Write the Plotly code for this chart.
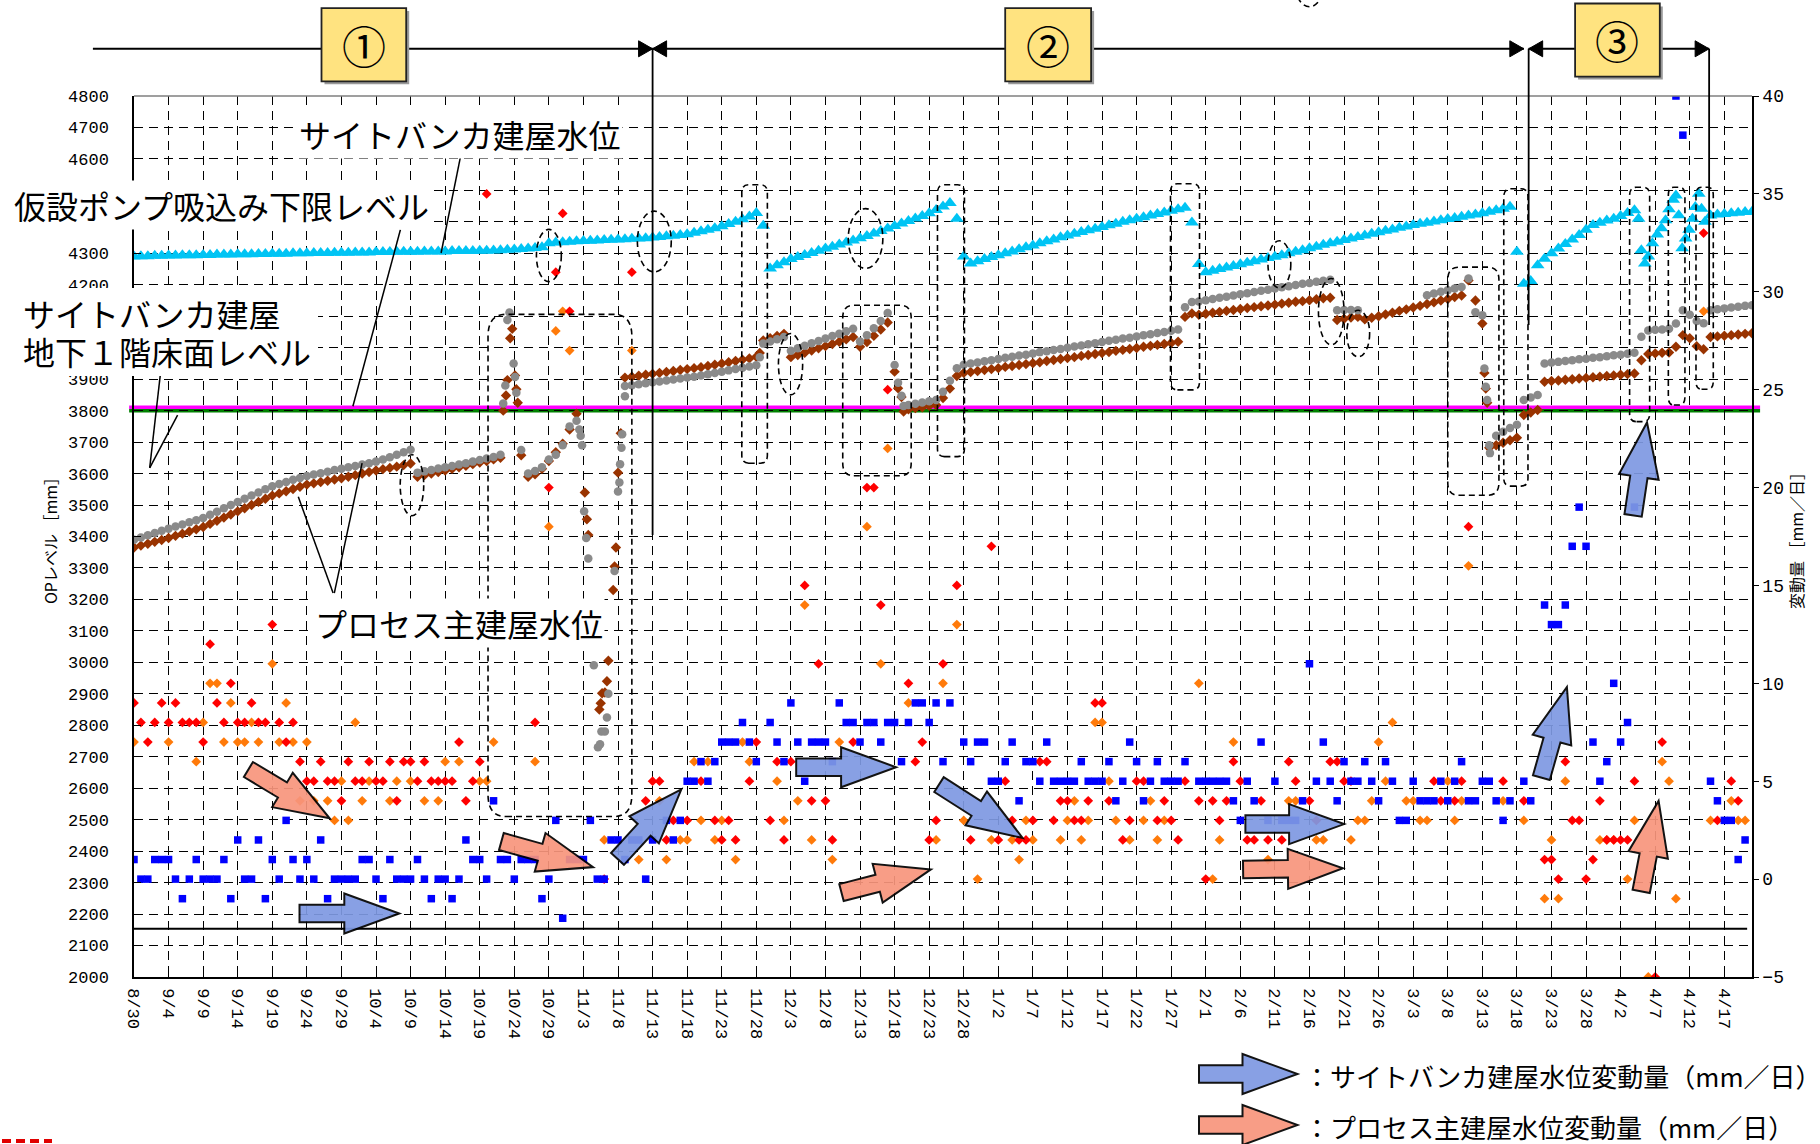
import plotly.graph_objects as go

N = None
FONT = "Noto Sans CJK JP"
TICK_FONT = "Liberation Mono"

# ---------------- categories / tick labels ----------------
DATE_LABELS = ["8/30", "9/4", "9/9", "9/14", "9/19", "9/24", "9/29", "10/4", "10/9", "10/14",
               "10/19", "10/24", "10/29", "11/3", "11/8", "11/13", "11/18", "11/23", "11/28", "12/3",
               "12/8", "12/13", "12/18", "12/23", "12/28", "1/2", "1/7", "1/12", "1/17", "1/22",
               "1/27", "2/1", "2/6", "2/11", "2/16", "2/21", "2/26", "3/3", "3/8", "3/13",
               "3/18", "3/23", "3/28", "4/2", "4/7", "4/12", "4/17"]
TICK_EVERY_DAYS = 5
N_DAYS = 235
DAYS = list(range(N_DAYS))          # day 0 = 8/30
Y_TICKS = list(range(2000, 4801, 100))
Y_LABELS_HIDDEN_BY_TEXT = [4000, 4100, 4400, 4500]   # covered by the label boxes in the original

# ---------------- levels (left axis, OP mm), one value per day ----------------
SB_LEVEL = [  # サイトバンカ建屋水位
    4290, 4291, 4291, 4292, 4292, 4293, 4293, 4294, 4294, 4294,
    4295, 4295, 4296, 4296, 4296, 4297, 4297, 4297, 4298, 4298,
    4299, 4299, 4299, 4300, 4300, 4300, 4301, 4301, 4301, 4302,
    4302, 4302, 4303, 4303, 4303, 4304, 4304, 4304, 4305, 4305,
    4305, 4305, 4306, 4306, 4306, 4306, 4307, 4307, 4307, 4307,
    4308, 4308, 4309, 4310, 4311, 4312, 4314, 4315, 4317, 4319,
    4332, 4334, 4335, 4337, 4338, 4339, 4340, 4341, 4342, 4343,
    4344, 4345, 4346, 4347, 4348, 4350, 4352, 4354, 4356, 4358,
    4361, 4365, 4370, 4375, 4380, 4386, 4393, 4400, 4408, 4417,
    4428, 4388, 4252, 4262, 4272, 4282, 4288, 4295, 4301, 4308,
    4315, 4321, 4328, 4334, 4341, 4348, 4355, 4363, 4371, 4379,
    4387, 4395, 4403, 4411, 4419, 4427, 4438, 4449, 4460, 4410,
    4290, 4268, 4275, 4282, 4288, 4294, 4300, 4306, 4313, 4319,
    4325, 4332, 4338, 4344, 4351, 4357, 4362, 4368, 4373, 4378,
    4384, 4389, 4394, 4400, 4405, 4410, 4415, 4420, 4425, 4430,
    4435, 4440, 4445, 4398, 4266, 4240, 4245, 4250, 4255, 4260,
    4265, 4270, 4275, 4280, 4285, 4289, 4294, 4300, 4305, 4310,
    4316, 4321, 4327, 4332, 4337, 4342, 4347, 4352, 4357, 4362,
    4367, 4372, 4376, 4381, 4385, 4390, 4394, 4397, 4401, 4405,
    4409, 4412, 4416, 4420, 4423, 4427, 4432, 4437, 4442, 4448,
    4305, 4203, 4212, 4262, 4283, 4300, 4315, 4330, 4344, 4358,
    4375, 4390, 4397, 4404, 4410, 4419, 4428, 4437, N, N,
    N, N, N, N, N, N, N, N, 4420, 4423,
    4425, 4427, 4429, 4431, 4432]
SB_EXTRA_DAY = [217.6, 218.0, 218.5, 219.0, 219.6, 220.3, 220.9, 221.5, 222.0, 222.6,
                223.0, 223.4, 223.9, 224.4, 224.9, 225.4, 225.8, 226.3, 226.7, 227.2]
SB_EXTRA_VAL = [4410, 4310, 4268, 4290, 4332, 4360, 4380, 4405, 4440, 4470,
                4484, 4421, 4316, 4347, 4375, 4410, 4447, 4489, 4442, 4400]

PG_LEVEL = [  # プロセス主建屋水位 (gray gauge)
    3390, 3397, 3404, 3411, 3418, 3425, 3432, 3438, 3445, 3452,
    3459, 3469, 3479, 3490, 3500, 3510, 3520, 3530, 3540, 3550,
    3560, 3567, 3573, 3580, 3586, 3592, 3597, 3601, 3606, 3611,
    3615, 3620, 3624, 3629, 3633, 3638, 3645, 3652, 3660, 3668,
    3676, 3603, 3607, 3611, 3616, 3620, 3624, 3629, 3633, 3638,
    3643, 3648, 3653, 3660, N, N, N, 3600, 3608, 3620,
    3645, 3660, 3690, 3750, 3768, N, N, N, N, N,
    N, 3878, 3881, 3884, 3887, 3890, 3893, 3896, 3899, 3902,
    3905, 3908, 3912, 3916, 3920, 3924, 3928, 3932, 3936, 3940,
    3944, 4013, 4020, 4027, 4034, 3990, 3998, 4006, 4014, 4021,
    4029, 4037, 4044, 4052, 4060, 4020, 4040, 4062, 4085, 4110,
    3945, 3847, 3818, 3822, 3826, 3830, 3834, 3860, 3895, 3935,
    3946, 3950, 3953, 3957, 3960, 3964, 3968, 3971, 3975, 3978,
    3982, 3986, 3989, 3993, 3996, 4000, 4004, 4007, 4011, 4014,
    4018, 4022, 4025, 4029, 4032, 4036, 4040, 4043, 4047, 4050,
    4054, 4058, 4129, 4145, 4147, 4151, 4155, 4159, 4162, 4166,
    4170, 4173, 4177, 4181, 4184, 4188, 4192, 4195, 4199, 4203,
    4206, 4210, 4213, 4216, 4119, 4120, 4120, 4119, N, N,
    N, N, N, N, N, N, N, 4167, 4172, 4178,
    4183, 4188, 4193, 4220, 4113, 4103, 3690, 3720, 3733, 3745,
    3755, 3834, 3842, 3850, 3950, 3953, 3955, 3958, 3960, 3963,
    3965, 3968, 3970, 3973, 3976, 3978, 3981, 3984, 4035, 4055,
    4057, 4058, 4060, 4077, 4119, 4105, 4085, 4078, 4119, 4122,
    4125, 4128, 4130, 4133, 4135]
PG_EXTRA_DAY = [53.4, 53.7, 54.0, 54.3, 54.9, 55.1, 55.3, 56.0, 64.4, 64.6, 64.8, 65.1, 65.4,
                65.7, 66.5, 67.1, 67.4, 67.6, 68.1, 68.4, 68.6, 69.5, 70.0, 70.2, 70.3, 70.5,
                70.6, 71.0, 90.5, 110.5, 111.3, 195.3, 195.5, 195.7, 196.1]
PG_EXTRA_VAL = [3823, 3880, 4088, 4112, 3950, 3907, 3857, 3675, 3740, 3720, 3690, 3480, 3395,
                3330, 2991, 2730, 2740, 2780, 2780, 2825, 2900, 3290, 3543, 3572, 3630, 3682,
                3725, 3846, 3970, 3889, 3815, 3934, 3876, 3834, 3665]

PB_LEVEL = [  # プロセス主建屋水位 (brown gauge)
    3365, 3371, 3377, 3383, 3389, 3395, 3402, 3409, 3416, 3423,
    3430, 3440, 3450, 3460, 3470, 3480, 3490, 3500, 3510, 3520,
    3530, 3537, 3544, 3551, 3558, 3565, 3569, 3573, 3577, 3581,
    3585, 3590, 3595, 3600, 3605, 3610, 3614, 3618, 3622, 3627,
    3632, 3590, 3595, 3600, 3605, 3610, 3615, 3620, 3625, 3630,
    3635, 3640, 3645, 3650, N, N, N, 3590, 3598, 3615,
    3640, 3668, 3695, 3740, 3790, N, N, N, N, N,
    N, 3905, 3908, 3911, 3914, 3917, 3920, 3923, 3926, 3929,
    3932, 3935, 3938, 3942, 3946, 3950, 3954, 3958, 3962, 3966,
    3971, 4023, 4030, 4037, 4044, 3970, 3977, 3984, 3991, 3998,
    4005, 4012, 4019, 4027, 4034, 4003, 4018, 4038, 4058, 4080,
    3924, 3843, 3804, 3808, 3811, 3815, 3818, 3840, 3870, 3910,
    3920, 3923, 3926, 3929, 3932, 3935, 3939, 3942, 3945, 3948,
    3951, 3954, 3958, 3961, 3964, 3967, 3970, 3974, 3977, 3980,
    3983, 3986, 3990, 3993, 3996, 3999, 4003, 4006, 4009, 4012,
    4015, 4019, 4098, 4109, 4105, 4108, 4111, 4114, 4117, 4120,
    4123, 4126, 4129, 4132, 4134, 4137, 4140, 4143, 4146, 4148,
    4151, 4154, 4157, 4159, 4088, 4092, 4096, 4098, 4090, 4095,
    4100, 4106, 4111, 4117, 4122, 4128, 4133, 4139, 4144, 4150,
    4155, 4161, 4166, 4214, 4150, 4077, 3682, 3690, 3698, 3706,
    3714, 3786, 3794, 3802, 3892, 3894, 3896, 3898, 3900, 3902,
    3904, 3906, 3908, 3910, 3912, 3914, 3916, 3918, 3960, 3980,
    3982, 3984, 3985, 4003, 4040, 4030, 4005, 3995, 4034, 4036,
    4038, 4040, 4042, 4044, 4046]
PB_EXTRA_DAY = [53.4, 53.8, 54.0, 54.4, 54.7, 55.1, 55.3, 55.5, 56.0, 65.2, 65.5, 65.7, 67.3,
                67.5, 67.7, 68.1, 68.4, 68.6, 69.3, 69.5, 69.7, 70.0, 70.4, 90.5, 110.5, 111.3,
                195.3, 195.5, 195.7]
PB_EXTRA_VAL = [3800, 3848, 3897, 4030, 4060, 3912, 3868, 3825, 3658, 3540, 3455, 3405, 2850,
                2870, 2902, 2904, 2940, 3005, 3230, 3305, 3365, 3603, 3728, 3983, 3871, 3797,
                3920, 3870, 3825]

# ---------------- daily variation (right axis, mm/day) ----------------
SB_RATE = [  # サイトバンカ建屋水位変動量
    1, 0, 0, 1, 1, 1, 0, -1, 0, 1,
    0, 0, 0, 1, -1, 2, 0, 0, 2, -1,
    1, 0, 3, 1, 0, 1, 0, 2, -1, 0,
    0, 0, 0, 1, 1, 0, -1, 1, 0, 0,
    0, 1, 0, -1, 0, 0, -1, 0, 2, 1,
    1, 0, 4, 1, 1, 0, 1, 1, 1, -1,
    0, 3, -2, 1, 1, 1, 3, 0, 0, 2,
    2, 1, 2, 2, 0, 2, N, 3, 2, 3,
    5, 5, 6, 5, 6, 7, 7, 7, 8, 7,
    6, N, 8, 7, 6, 9, 7, 5, 7, 7,
    7, 6, 9, 8, 8, 7, 8, 8, 7, 8,
    8, 6, 8, 9, 9, 8, 9, 6, 9, N,
    7, 6, 7, 7, 5, 5, 6, 7, 4, 6,
    6, 5, 7, 5, 5, 5, 5, 6, 5, 5,
    5, 6, 4, 5, 7, 6, 4, 5, 6, 5,
    5, 5, 6, N, 5, 5, 5, 5, 5, 4,
    3, 5, 4, 7, 3, 5, 3, 3, 3, 4,
    11, 5, 7, 5, 4, 6, 5, 5, 6, 5,
    4, 6, 5, 3, 3, 5, 4, 4, 4, 5,
    4, 5, 6, 4, 4, 5, 5, 4, 3, 4,
    N, 5, 4, N, 14, 13, 13, 14, 17, 19,
    17, 7, 5, 6, 10, 7, 8, 19, N, N,
    N, N, N, 40, 38, N, N, N, 5, 4,
    3, 3, 1, 2, N]

PR_RATE = [  # プロセス主建屋水位変動量 (red)
    9, 8, 7, 8, 9, 8, 9, 8, 8, 8,
    7, 12, 9, 8, 10, 8, 8, 9, 8, 8,
    13, 8, 7, 8, 6, 5, 5, 6, 5, 5,
    4, 6, 5, 5, 6, 5, 5, 6, 4, 6,
    6, 5, 6, 5, 5, 5, 5, 7, 4, 5,
    6, 35, N, N, N, N, N, N, 8, N,
    20, 31, 34, 29, N, N, N, N, 0, N,
    N, N, 31, N, 4, 5, 5, 2, 3, N,
    3, N, 5, N, 3, 2, 3, 2, N, 5,
    7, N, 3, 6, 2, 6, N, 15, 4, 11,
    4, 2, N, N, 7, N, 20, 20, 14, 25,
    N, N, 10, 6, 7, 2, 3, 11, N, 15,
    N, 2, N, N, 17, 2, 5, 3, 2, 2,
    3, 6, 6, 3, 4, 4, 3, 3, 4, 9,
    9, 4, N, 2, 3, 5, 5, N, 3, 4,
    3, 2, 5, N, 4, 0, 4, 3, 4, 6,
    5, 2, 2, 4, 2, N, 2, 6, 5, N,
    4, 3, N, 6, 6, 5, 5, N, N, N,
    N, N, N, N, N, N, N, N, 5, 4,
    N, 4, 5, 18, N, N, N, N, 5, N,
    N, 4, N, N, 1, 1, 0, 6, 3, 3,
    0, 1, 4, 2, 2, 2, 2, 5, N, N,
    -5, 7, N, N, N, N, N, 33, N, 3,
    N, 5, 4, N, N]

PO_RATE = [  # プロセス主建屋水位変動量 (orange)
    7, N, N, N, N, 7, N, N, N, 6,
    8, 10, 10, 7, 9, 7, 7, 8, 7, N,
    11, 7, 9, 7, 4, 7, 4, N, 4, 3,
    5, 3, 8, 4, 5, N, N, 4, 5, N,
    5, N, 4, N, 4, 6, N, 6, N, N,
    5, 5, 7, N, N, N, N, N, 6, N,
    18, 28, 29, 27, N, N, N, N, 2, N,
    N, N, 27, 1, N, N, 4, 1, N, 2,
    2, 6, 3, 6, 2, 3, N, 1, 7, 6,
    N, N, N, 5, 3, N, 4, 14, 2, N,
    N, 1, 7, N, N, N, 18, N, 11, 22,
    N, N, 9, N, N, N, 2, 10, N, 13,
    3, N, 0, N, 2, N, N, 2, 1, 3,
    2, N, N, N, 2, 3, 4, 2, 3, 8,
    8, 5, 3, N, 2, N, 3, 4, 2, 3,
    N, N, N, N, 10, N, 0, 2, N, 7,
    N, N, N, N, 1, N, N, 4, 4, N,
    N, 2, 2, N, N, N, 2, 3, 3, 4,
    7, 5, 8, N, 4, 4, 3, 3, N, N,
    5, 3, 4, 16, N, N, N, N, 4, N,
    N, 3, N, N, -1, 2, -1, 5, N, N,
    N, N, 2, 2, 2, N, 0, 3, N, -5,
    N, 6, 5, -1, N, N, N, 29, 3, N,
    N, 4, 3, 3, N]

# ---------------- reference levels ----------------
PUMP_LOW_LEVEL = 3811      # 仮設ポンプ吸込み下限レベル (magenta)
B1F_FLOOR_LEVEL = 3800     # サイトバンカ建屋地下1階床面レベル (green)
BASE_LINE_LEVEL = 2153

# ---------------- styles ----------------
C_SB = "#00C4F4"
C_GRAY = "#8A8A8A"
C_BROWN = "#993300"
C_RED = "#FF0000"
C_ORANGE = "#FF7A0A"
C_BLUE = "#0000FF"
C_ARROW_B = "#7E99E2"
C_ARROW_O = "#F8957C"
C_BOX = "#FFE380"

FIG_W, FIG_H = 1820, 1144
M_L, M_R, M_T, M_B = 134, 68, 96, 167
PW, PH = FIG_W - M_L - M_R, FIG_H - M_T - M_B
X_RANGE = [0, 234]
Y_RANGE = [2000, 4800]
Y2_RANGE = [-5, 40]


def fx(px):  # figure pixel -> paper x
    return (px - M_L) / PW


def fy(py):  # figure pixel -> paper y
    return (FIG_H - M_B - py) / PH


def day_px(d):
    return M_L + (d - X_RANGE[0]) / (X_RANGE[1] - X_RANGE[0]) * PW


def val_paper(v):
    return (v - Y_RANGE[0]) / (Y_RANGE[1] - Y_RANGE[0])


def series_xy(vals, extra_days=(), extra_vals=()):
    xs = [d for d, v in zip(DAYS, vals) if v is not None]
    ys = [v for v in vals if v is not None]
    return xs + list(extra_days), ys + list(extra_vals)


fig = go.Figure()

for vals, color, sym, size, nm in [
        (PO_RATE, C_ORANGE, "diamond", 7.5, "プロセス主建屋水位変動量(2)"),
        (PR_RATE, C_RED, "diamond", 7.5, "プロセス主建屋水位変動量(1)"),
        (SB_RATE, C_BLUE, "square", 7.5, "サイトバンカ建屋水位変動量")]:
    x, y = series_xy(vals)
    fig.add_trace(go.Scatter(x=x, y=y, yaxis="y2", mode="markers", name=nm,
                             marker=dict(symbol=sym, size=size, color=color, line=dict(width=0))))

for vals, ed, ev, color, sym, size, nm in [
        (PB_LEVEL, PB_EXTRA_DAY, PB_EXTRA_VAL, C_BROWN, "diamond", 8, "プロセス主建屋水位(2)"),
        (PG_LEVEL, PG_EXTRA_DAY, PG_EXTRA_VAL, C_GRAY, "circle", 8.5, "プロセス主建屋水位(1)"),
        (SB_LEVEL, SB_EXTRA_DAY, SB_EXTRA_VAL, C_SB, "triangle-up", 12, "サイトバンカ建屋水位")]:
    x, y = series_xy(vals, ed, ev)
    fig.add_trace(go.Scatter(x=x, y=y, mode="markers", name=nm,
                             marker=dict(symbol=sym, size=size, color=color, line=dict(width=0))))

shapes = []
annos = []

# reference horizontal lines
for yv, col, w, x0, x1 in [(PUMP_LOW_LEVEL, "#FF00FF", 3.5, -0.003, 1.005),
                           (B1F_FLOOR_LEVEL, "#008000", 3.5, -0.003, 1.005),
                           (BASE_LINE_LEVEL, "black", 2, 0, 0.997)]:
    shapes.append(dict(type="line", xref="paper", yref="y", x0=x0, x1=x1, y0=yv, y1=yv,
                       line=dict(color=col, width=w), layer="below"))
# top frame
shapes.append(dict(type="line", xref="paper", yref="paper", x0=0, x1=1, y0=1, y1=1,
                   line=dict(color="#7F7F7F", width=1.5)))

# dashed highlight boxes (days, mm)
HILITE_RECTS = [(51.2, 72.0, 2510, 4106, 2.6, 70), (87.9, 91.6, 3633, 4518, 1.0, 25),
                (102.5, 112.4, 3593, 4135, 1.6, 40), (116.2, 120.1, 3654, 4518, 1.0, 25),
                (149.9, 154.1, 3866, 4521, 1.0, 25), (190.0, 197.4, 3531, 4256, 1.6, 40),
                (198.1, 201.6, 3560, 4505, 1.0, 25), (216.3, 219.2, 3765, 4510, 1.0, 25),
                (221.9, 224.3, 3818, 4510, 0.8, 25), (225.9, 228.4, 3868, 4510, 0.8, 25)]
HILITE_ELLIPSES = [(38.5, 41.9, 3466, 3660), (58.2, 61.8, 4210, 4376), (72.8, 77.7, 4241, 4434),
                   (93.2, 96.7, 3850, 4045), (103.3, 108.3, 4252, 4442), (164.0, 167.3, 4190, 4340),
                   (171.3, 175.0, 4009, 4220), (175.4, 178.7, 3971, 4119)]
DASH = "6px,4px"
for x0, x1, y0, y1, rx, ry in HILITE_RECTS:
    p = (f"M {x0+rx},{y0} L {x1-rx},{y0} Q {x1},{y0} {x1},{y0+ry} L {x1},{y1-ry} "
         f"Q {x1},{y1} {x1-rx},{y1} L {x0+rx},{y1} Q {x0},{y1} {x0},{y1-ry} "
         f"L {x0},{y0+ry} Q {x0},{y0} {x0+rx},{y0} Z")
    shapes.append(dict(type="path", xref="x", yref="y", path=p,
                       line=dict(color="black", width=1.6, dash=DASH)))
for x0, x1, y0, y1 in HILITE_ELLIPSES:
    shapes.append(dict(type="circle", xref="x", yref="y", x0=x0, x1=x1, y0=y0, y1=y1,
                       line=dict(color="black", width=1.6, dash=DASH)))
# partial ellipse cut by the top of the page
shapes.append(dict(type="circle", xref="paper", yref="paper",
                   x0=fx(day_px(167.9)), x1=fx(day_px(172.1)), y0=fy(6.7), y1=fy(-40),
                   line=dict(color="black", width=1.6, dash=DASH)))


# block arrows (figure pixels)
def block_arrow(tail, tip, ws=17.5, wh=40, hl=55):
    tx, ty = tail
    px_, py_ = tip
    L = ((px_ - tx) ** 2 + (py_ - ty) ** 2) ** 0.5
    ux, uy = (px_ - tx) / L, (py_ - ty) / L
    nx, ny = -uy, ux
    hx, hy = px_ - ux * hl, py_ - uy * hl
    pts = [(tx + nx * ws / 2, ty + ny * ws / 2), (hx + nx * ws / 2, hy + ny * ws / 2),
           (hx + nx * wh / 2, hy + ny * wh / 2), (px_, py_),
           (hx - nx * wh / 2, hy - ny * wh / 2), (hx - nx * ws / 2, hy - ny * ws / 2),
           (tx - nx * ws / 2, ty - ny * ws / 2)]
    return "M " + " L ".join(f"{fx(a):.5f},{fy(b):.5f}" for a, b in pts) + " Z"


BLUE_ARROWS = [((299.5, 913.5), (399.3, 913.5)), ((617.5, 858.9), (681.3, 789.3)),
               ((796.2, 767.2), (896.1, 767.2)), ((939.0, 784.6), (1022.6, 838.0)),
               ((1245.4, 824.1), (1344.1, 824.1)), ((1541.4, 777.7), (1566.9, 687.1)),
               ((1633.1, 515.4), (1647.0, 422.5)), ((1199, 1074), (1297.5, 1074))]
ORANGE_ARROWS = [((248.4, 769.5), (329.6, 818.3)), ((501.4, 841.5), (593.1, 867.1)),
                 ((841.5, 892.6), (930.9, 869.4)), ((1243.1, 869.4), (1342.9, 868.2)),
                 ((1641.2, 891.4), (1658.6, 800.9)), ((1199, 1125), (1297.5, 1125))]
for arrows, col in [(BLUE_ARROWS, C_ARROW_B), (ORANGE_ARROWS, C_ARROW_O)]:
    for tail, tip in arrows:
        shapes.append(dict(type="path", xref="paper", yref="paper", path=block_arrow(tail, tip),
                           fillcolor=col, opacity=0.92, line=dict(color="black", width=2)))

# header: period bar with arrows
HEADER_Y = 48.8
hy = fy(HEADER_Y)
segs = [(92.9, day_px(75.0)), (day_px(75.0), day_px(201.0)), (day_px(201.7), day_px(227.8))]
for a, b in segs:
    shapes.append(dict(type="line", xref="paper", yref="paper", x0=fx(a), x1=fx(b), y0=hy, y1=hy,
                       line=dict(color="black", width=2)))


def tri(tip_x, direction, L=14, h=8):
    bx = tip_x - direction * L
    return (f"M {fx(tip_x):.5f},{hy:.5f} L {fx(bx):.5f},{fy(HEADER_Y - h):.5f} "
            f"L {fx(bx):.5f},{fy(HEADER_Y + h):.5f} Z")


for tip_x, dr in [(day_px(75.0), 1), (day_px(75.0), -1), (day_px(201.0), 1),
                  (day_px(201.7), -1), (day_px(227.8), 1)]:
    shapes.append(dict(type="path", xref="paper", yref="paper", path=tri(tip_x, dr),
                       fillcolor="black", line=dict(color="black", width=1)))
for d, bottom in [(75.0, 3405), (201.7, 4072), (227.8, 4072)]:
    shapes.append(dict(type="line", xref="paper", yref="paper", x0=fx(day_px(d)), x1=fx(day_px(d)),
                       y0=val_paper(bottom), y1=hy, line=dict(color="black", width=1.8)))

PERIOD_BOXES = [("①", 321.5, 406.2, 8.1, 81.3), ("②", 1005.2, 1091.1, 8.1, 81.3),
                ("③", 1575.1, 1659.8, 3.5, 76.6)]
for label, x0, x1, y0, y1 in PERIOD_BOXES:
    shapes.append(dict(type="rect", xref="paper", yref="paper", x0=fx(x0 + 3), x1=fx(x1 + 3),
                       y0=fy(y1 + 3), y1=fy(y0 + 3), fillcolor="#9A9A9A", line=dict(width=0)))
    shapes.append(dict(type="rect", xref="paper", yref="paper", x0=fx(x0), x1=fx(x1),
                       y0=fy(y1), y1=fy(y0), fillcolor=C_BOX, line=dict(color="#222222", width=1.8)))
    annos.append(dict(text=label, xref="paper", yref="paper", x=fx((x0 + x1) / 2),
                      y=fy((y0 + y1) / 2), xanchor="center", yanchor="middle", showarrow=False,
                      font=dict(size=44, color="black", family=FONT)))

# leader lines
LEADERS = [((460.8, 155.1), (441.1, 253.0)), ((400.4, 229.8), (352.9, 406.2)),
           ((160.8, 370.3), (149.7, 467.8)), ((177.6, 415.1), (149.7, 467.8)),
           ((333.1, 593.1), (298.3, 496.8)), ((334.3, 593.1), (362.1, 463.1))]
for (a, b), (c, d) in LEADERS:
    shapes.append(dict(type="line", xref="paper", yref="paper", x0=fx(a), y0=fy(b), x1=fx(c), y1=fy(d),
                       line=dict(color="black", width=1.5)))

# white panel behind the two-line label (partly hides 4200 / 3900 like the original)
shapes.append(dict(type="rect", xref="paper", yref="paper", x0=fx(8), x1=fx(318), y0=fy(376),
                   y1=fy(288), fillcolor="white", line=dict(width=0), layer="above"))

# text labels
LABELS = [("サイトバンカ建屋水位", 459.6, 133.5, "center", True),
          ("仮設ポンプ吸込み下限レベル", 221.7, 205.4, "center", True),
          ("サイトバンカ建屋", 21, 313.0, "left", False),
          ("地下１階床面レベル", 21, 351.0, "left", False),
          ("プロセス主建屋水位", 458.5, 623.3, "center", True)]
for txt, x, y, anc, bg in LABELS:
    annos.append(dict(text=txt, xref="paper", yref="paper", x=fx(x), y=fy(y), xanchor=anc,
                      yanchor="middle", showarrow=False,
                      bgcolor="white" if bg else "rgba(0,0,0,0)", borderpad=1,
                      font=dict(size=32, color="black", family=FONT)))

LEGEND_TEXTS = [("：サイトバンカ建屋水位変動量（mm／日）", 1075),
                ("：プロセス主建屋水位変動量（mm／日）", 1126)]
for txt, y in LEGEND_TEXTS:
    annos.append(dict(text=txt, xref="paper", yref="paper", x=fx(1302), y=fy(y), xanchor="left",
                      yanchor="middle", showarrow=False,
                      font=dict(size=26, color="black", family=FONT)))

# small red fragment at the page's bottom-left corner
shapes.append(dict(type="line", xref="paper", yref="paper", x0=fx(2), x1=fx(52), y0=fy(1141),
                   y1=fy(1141), line=dict(color="#E00000", width=4, dash="9px,5px")))

GRID_DASH = "9px,6px"
fig.update_layout(
    width=FIG_W, height=FIG_H,
    margin=dict(l=M_L, r=M_R, t=M_T, b=M_B, autoexpand=False),
    paper_bgcolor="white", plot_bgcolor="white",
    showlegend=False,
    font=dict(family=FONT, color="black"),
    xaxis=dict(range=X_RANGE, tickmode="array",
               tickvals=[i * TICK_EVERY_DAYS for i in range(len(DATE_LABELS))],
               ticktext=DATE_LABELS, tickangle=90, tickfont=dict(size=17, family=TICK_FONT),
               showgrid=True, gridcolor="black", gridwidth=1, griddash=GRID_DASH,
               showline=True, linecolor="black", linewidth=1.5,
               ticks="inside", ticklen=7, tickcolor="black", zeroline=False,
               ticklabelstandoff=6),
    yaxis=dict(range=Y_RANGE, tickmode="array", tickvals=Y_TICKS,
               ticktext=["" if v in Y_LABELS_HIDDEN_BY_TEXT else str(v) for v in Y_TICKS],
               tickfont=dict(size=17, family=TICK_FONT),
               showgrid=True, gridcolor="black", gridwidth=1, griddash=GRID_DASH,
               showline=True, linecolor="black", linewidth=1.5,
               ticks="inside", ticklen=7, tickcolor="black", zeroline=False,
               ticklabelstandoff=20,
               title=dict(text="OPレベル ［mm］", font=dict(size=16), standoff=6)),
    yaxis2=dict(overlaying="y", side="right", range=Y2_RANGE, tick0=-5, dtick=5,
                tickfont=dict(size=18, family=TICK_FONT), showgrid=False, zeroline=False,
                showline=True, linecolor="black", linewidth=1.5,
                ticks="outside", ticklen=5, tickcolor="black",
                title=dict(text="変動量 ［mm／日］", font=dict(size=16), standoff=6)),
    shapes=shapes,
    annotations=annos,
)

fig.write_html("out.html", config={"displayModeBar": False},
               post_script="document.body.style.margin='0';")
